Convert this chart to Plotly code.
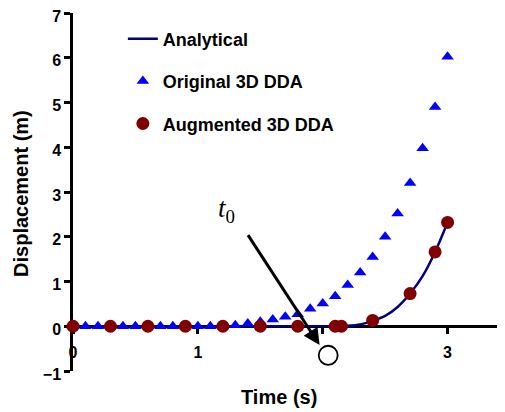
import plotly.graph_objects as go

# ---- data ----
t_analytical = [0.0, 2.1, 2.2, 2.3, 2.4, 2.5, 2.6, 2.7, 2.8, 2.9, 3.0]
d_analytical = [0.0, 0.0, 0.01, 0.04, 0.12, 0.23, 0.43, 0.73, 1.12, 1.66, 2.32]

t_original = [0.0, 0.1, 0.2, 0.3, 0.4, 0.5, 0.6, 0.7, 0.8, 0.9, 1.0,
              1.1, 1.2, 1.3, 1.4, 1.5, 1.6, 1.7, 1.8, 1.9, 2.0,
              2.1, 2.2, 2.3, 2.4, 2.5, 2.6, 2.7, 2.8, 2.9, 3.0]
d_original = [0.0, 0.0, 0.0, 0.0, 0.0, 0.0, 0.0, 0.0, 0.0, 0.0, 0.0,
              0.0, 0.01, 0.02, 0.06, 0.1, 0.15, 0.21, 0.27, 0.39, 0.51,
              0.67, 0.92, 1.2, 1.55, 2.0, 2.52, 3.2, 3.98, 4.9, 6.02]

t_augmented = [0.0, 0.3, 0.6, 0.9, 1.2, 1.5, 1.8, 2.1, 2.15, 2.4, 2.7, 2.9, 3.0]
d_augmented = [0.0, 0.0, 0.0, 0.0, 0.0, 0.0, 0.0, 0.0, 0.0, 0.13, 0.73, 1.66, 2.32]

x_tickvals = [0, 1, 2, 3]
x_ticktext = ["0", "1", "", "3"]
y_tickvals = [-1, 0, 1, 2, 3, 4, 5, 6, 7]

FONT = "Liberation Sans, Arial, sans-serif"

fig = go.Figure()
fig.add_trace(go.Scatter(
    x=t_analytical, y=d_analytical, mode="lines", name="Analytical",
    line=dict(color="#000080", width=2.5, shape="spline", smoothing=0.6),
    legendgroup="a", cliponaxis=False))
fig.add_trace(go.Scatter(
    x=t_original, y=d_original, mode="markers", name="Original 3D DDA",
    marker=dict(symbol="triangle-up", color="#0000FF", size=11),
    legendgroup="b", cliponaxis=False))
fig.add_trace(go.Scatter(
    x=t_augmented, y=d_augmented, mode="markers", name="Augmented 3D DDA",
    marker=dict(symbol="circle", color="#800000", size=13),
    legendgroup="c", cliponaxis=False))

fig.update_layout(
    width=505, height=412,
    margin=dict(l=65, r=8, t=5, b=49, autoexpand=False),
    paper_bgcolor="white", plot_bgcolor="white",
    font=dict(family=FONT, color="black", size=16, weight="bold"),
    showlegend=True,
    legend=dict(x=0.1154, y=0.979, xanchor="left", yanchor="top",
                font=dict(family=FONT, size=18, color="black", weight="bold"),
                bgcolor="rgba(0,0,0,0)", tracegroupgap=16, traceorder="grouped"),
    xaxis=dict(range=[0, 3.46], anchor="free", position=0.125, automargin=False,
               showline=True, linecolor="black", linewidth=2.5,
               ticks="outside", ticklen=6, tickwidth=2.5, tickcolor="black",
               tickvals=x_tickvals, ticktext=x_ticktext, ticklabelstandoff=5,
               tickfont=dict(family=FONT, size=16, weight="bold"),
               showgrid=False, zeroline=False, layer="below traces"),
    yaxis=dict(range=[-1, 7], domain=[0, 1], automargin=False,
               showline=True, linecolor="black", linewidth=2.5,
               ticks="outside", ticklen=6, tickwidth=2.5, tickcolor="black",
               tickvals=y_tickvals, ticklabeloverflow="allow", ticklabelshift=3,
               tickfont=dict(family=FONT, size=16, weight="bold"),
               showgrid=False, zeroline=False, layer="below traces"),
)

# axis titles
fig.add_annotation(text="Time (s)", xref="paper", yref="paper",
                   x=0.477, y=-0.0735, xanchor="center", yanchor="middle",
                   showarrow=False,
                   font=dict(family=FONT, size=20, weight="bold", color="black"))
fig.add_annotation(text="Displacement (m)", xref="paper", yref="paper",
                   x=-0.12, y=0.495, xanchor="center", yanchor="middle",
                   textangle=-90, showarrow=False,
                   font=dict(family=FONT, size=20, weight="bold", color="black"))

# t0 label and arrow
fig.add_annotation(text="<i>t</i><sub>0</sub>", xref="x", yref="y",
                   x=1.23, y=2.6, xanchor="center", yanchor="middle",
                   showarrow=False,
                   font=dict(family="Liberation Serif, Times New Roman, serif",
                             size=27, color="black", weight="normal"))
fig.add_annotation(text="", xref="x", yref="y", axref="x", ayref="y",
                   x=1.975, y=-0.42, ax=1.394, ay=2.07,
                   showarrow=True, arrowhead=2, arrowsize=1.1,
                   arrowwidth=3, arrowcolor="black")

fig.add_shape(type="circle", xref="x", yref="y",
              x0=1.968, x1=2.120, y0=-0.861, y1=-0.436,
              fillcolor="white", line=dict(color="black", width=1.8),
              layer="above")

fig.write_html("out.html")
